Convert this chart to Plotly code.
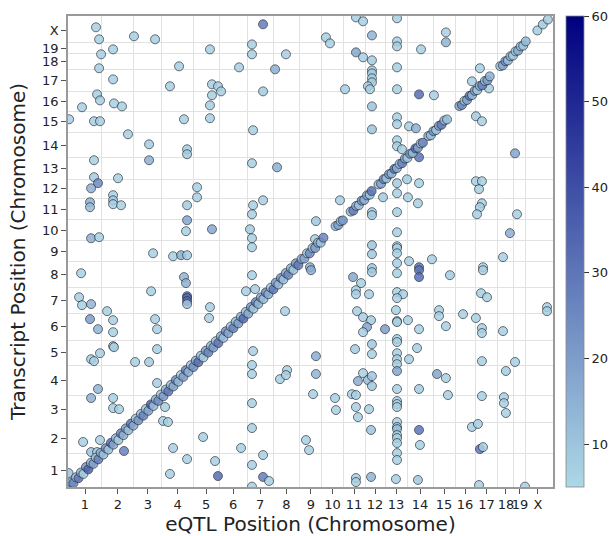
import numpy as np
import plotly.graph_objects as go

# Chromosome layout (approximate lengths, Mb, as drawn on the genome-wide axes)
chrom_labels = ["1", "2", "3", "4", "5", "6", "7", "8", "9", "10",
                "11", "12", "13", "14", "15", "16", "17", "18", "19", "X"]
chrom_lengths = [187, 176, 154, 171, 143, 154, 143, 148, 121, 116,
                 121, 110, 121, 143, 121, 110, 126, 88, 66, 132]
genome_end = 2668

# trans-eQTLs: genome-wide eQTL position, transcript position (Mb), colour value
trans_x = [154, 171, 182, 171, 248, 363, 479, 781, 1012, 1012,
           1073, 1199, 611, 941, 1139, 248, 561, 792, 825, 842,
           792, 1073, 77, 160, 176, 253, 297, 781, 6, 143,
           176, 638, 781, 330, 1018, 446, 655, 655, 446, 143,
           1012, 1150, 143, 275, 165, 127, 710, 710, 248, 248,
           248, 292, 121, 121, 655, 1073, 1018, 1012, 655, 649,
           792, 1001, 1012, 1012, 127, 171, 468, 578, 622, 655,
           1584, 1623, 1810, 1419, 1441, 1672, 1584, 1623, 1672, 1810,
           1810, 1942, 2079, 2079, 1672, 1672, 1672, 1672, 1650, 1661,
           1810, 1524, 1810, 1931, 2013, 1672, 1672, 1810, 1810, 1876,
           1914, 1810, 1810, 1837, 1931, 2266, 2222, 2316, 2244, 2277,
           2459, 1810, 1865, 1810, 1733, 1870, 1931, 1925, 1496, 1672,
           1672, 1810, 2244, 2277, 2261, 2277, 2266, 2250, 2470, 2431,
           1364, 1359, 1810, 1672, 1672, 1810, 1810, 1810, 1810, 1876,
           2002, 2393, 1931, 1331, 2283, 1672, 72, 61, 77, 127,
           121, 165, 215, 248, 248, 248, 253, 127, 143, 176,
           165, 127, 248, 248, 281, 83, 176, 127, 160, 3,
           457, 479, 490, 490, 446, 490, 369, 308, 578, 561,
           655, 743, 809, 825, 638, 649, 655, 655, 655, 655,
           781, 776, 534, 523, 550, 952, 979, 1012, 1029, 1018,
           1012, 1012, 1012, 1012, 1012, 1073, 1073, 1106, 1012, 1166,
           1205, 1199, 1194, 1337, 1568, 1612, 1672, 1810, 1931, 1931,
           2101, 2283, 1584, 1584, 1656, 1810, 1843, 1810, 2272, 2305,
           1590, 1623, 1667, 1645, 1623, 1804, 1810, 1810, 1870, 1744,
           1931, 2041, 2041, 2079, 2173, 2244, 2277, 2277, 2393, 2635,
           2635, 1579, 1672, 1672, 1810, 1810, 1810, 1810, 1810, 1810,
           1876, 1920, 2277, 2459, 1364, 1364, 2409, 1623, 1595, 1650,
           1672, 1672, 2030, 2079, 1348, 1469, 1474, 1562, 1584, 1584,
           1595, 1656, 1810, 1810, 1810, 1810, 1931, 2090, 2277, 2398,
           2398, 2409, 1810, 1810, 1810, 1810, 1810, 1810, 1810, 1810,
           1667, 1931, 1936, 2222, 2255, 2266, 2283, 1309, 1326, 1584,
           1584, 1667, 1804, 1925, 2261, 2514]
trans_y = [2604, 2536, 2451, 2372, 2479, 2553, 2536, 2479, 2507, 2451,
           2621, 2451, 2383, 2377, 2366, 2309, 2270, 2281, 2270, 2241,
           2219, 2241, 2151, 2224, 2190, 2173, 2156, 2162, 2083, 2072,
           2072, 2083, 2089, 1998, 2021, 1941, 1913, 1885, 1851, 1851,
           1834, 1811, 1755, 1749, 1721, 1692, 1698, 1641, 1653, 1624,
           1602, 1596, 1613, 1585, 1596, 1624, 1596, 1545, 1511, 1449,
           1460, 1460, 1409, 1358, 1409, 1415, 1324, 1307, 1313, 1313,
           2660, 2638, 2655, 2547, 2513, 2558, 2462, 2434, 2417, 2524,
           2496, 2479, 2575, 2519, 2360, 2343, 2315, 2292, 2270, 2253,
           2377, 2253, 2253, 2224, 2219, 2156, 2026, 2094, 2055, 2043,
           2032, 1964, 1930, 1913, 1868, 2372, 2298, 2258, 2100, 2072,
           1890, 1721, 1743, 1664, 1641, 1641, 1721, 1607, 1624, 1557,
           1540, 1557, 1732, 1732, 1687, 1607, 1585, 1545, 1545, 1438,
           1506, 1404, 1443, 1370, 1319, 1364, 1353, 1324, 1268, 1279,
           1290, 1302, 1245, 1245, 1245, 1240, 1211, 1075, 1030, 1036,
           951, 894, 996, 945, 877, 798, 792, 724, 713, 758,
           555, 504, 504, 447, 441, 255, 266, 198, 198, 79,
           1109, 951, 894, 781, 708, 589, 708, 204, 221, 74,
           158, 283, 147, 62, 1189, 1155, 1081, 1070, 1053, 1036,
           1019, 957, 453, 374, 368, 221, 1109, 1200, 1121, 770,
           691, 640, 475, 334, 125, 181, 57, 34, 2, 611,
           662, 634, 996, 1228, 1189, 1155, 1217, 1211, 1228, 1189,
           1200, 1228, 1115, 1092, 1092, 1104, 1092, 1070, 1098, 1075,
           996, 962, 945, 906, 877, 1002, 940, 934, 945, 894,
           894, 1002, 968, 911, 979, 957, 900, 872, 883, 1019,
           996, 781, 809, 753, 838, 821, 758, 724, 696, 657,
           724, 787, 713, 708, 741, 640, 657, 645, 600, 606,
           628, 572, 640, 617, 526, 504, 436, 526, 521, 453,
           396, 441, 555, 487, 470, 453, 555, 521, 515, 509,
           475, 419, 368, 340, 328, 294, 277, 249, 192, 153,
           323, 323, 238, 340, 357, 215, 226, 266, 209, 51,
           28, 57, 45, 40, 11, 2]
trans_c = [7, 7, 7, 7, 7, 7, 7, 7, 7, 7,
           28, 7, 7, 7, 15, 7, 7, 7, 7, 7,
           7, 8, 7, 7, 7, 7, 7, 7, 7, 7,
           7, 7, 7, 7, 7, 8, 8, 8, 15, 7,
           7, 15, 8, 7, 25, 15, 7, 7, 7, 9,
           7, 7, 15, 12, 8, 7, 7, 7, 18, 7,
           17, 8, 7, 7, 15, 7, 7, 7, 16, 8,
           7, 7, 7, 7, 7, 14, 18, 7, 8, 7,
           7, 7, 7, 14, 8, 8, 8, 8, 7, 7,
           7, 7, 7, 32, 7, 10, 10, 7, 7, 7,
           15, 7, 7, 7, 30, 7, 7, 7, 8, 7,
           18, 8, 8, 7, 8, 7, 7, 7, 7, 8,
           8, 7, 7, 7, 7, 7, 7, 7, 7, 16,
           9, 7, 7, 10, 9, 7, 7, 7, 7, 7,
           7, 7, 30, 16, 7, 9, 7, 7, 7, 14,
           20, 14, 7, 7, 7, 8, 7, 7, 7, 7,
           14, 15, 7, 7, 7, 7, 7, 10, 8, 10,
           7, 7, 7, 7, 8, 7, 7, 27, 7, 7,
           7, 7, 7, 32, 14, 15, 33, 33, 33, 10,
           7, 7, 7, 7, 7, 7, 7, 7, 7, 7,
           7, 7, 7, 7, 7, 7, 28, 7, 7, 7,
           7, 7, 7, 16, 17, 7, 9, 7, 30, 32,
           8, 7, 7, 7, 7, 7, 7, 7, 7, 7,
           7, 7, 8, 18, 7, 7, 7, 7, 7, 20,
           7, 7, 7, 7, 7, 7, 7, 7, 7, 7,
           7, 8, 9, 7, 7, 7, 7, 7, 7, 18,
           7, 7, 7, 7, 16, 14, 8, 7, 16, 12,
           9, 9, 18, 7, 7, 7, 7, 7, 7, 7,
           7, 7, 7, 7, 7, 7, 8, 7, 7, 7,
           7, 7, 7, 10, 12, 7, 7, 7, 7, 7,
           10, 30, 7, 7, 7, 30, 7, 7, 7, 7,
           7, 14, 7, 9, 7, 7]

# cis-eQTLs (near the diagonal)
cis_x = [5, 18, 30, 44, 58, 71, 85, 99, 112, 126,
         140, 153, 167, 180, 195, 208, 222, 236, 250, 263,
         277, 291, 305, 318, 332, 346, 360, 373, 387, 401,
         415, 428, 442, 456, 470, 483, 497, 511, 525, 538,
         552, 566, 580, 593, 607, 621, 635, 648, 662, 676,
         690, 703, 717, 731, 745, 758, 772, 786, 800, 813,
         827, 841, 855, 868, 882, 896, 910, 923, 937, 951,
         965, 978, 992, 1006, 1020, 1033, 1047, 1061, 1075, 1088,
         1102, 1116, 1130, 1143, 1157, 1171, 1185, 1198, 1212, 1226,
         1240, 1253, 1267, 1285, 1300, 1315, 1330, 1345, 1360, 1375,
         1390, 1405, 1472, 1487, 1500, 1512, 1555, 1570, 1585, 1600,
         1615, 1630, 1645, 1660, 1670, 1708, 1722, 1737, 1751, 1766,
         1780, 1795, 1809, 1824, 1838, 1853, 1867, 1882, 1896, 1911,
         1925, 1940, 1952, 1982, 1996, 2010, 2025, 2040, 2055, 2070,
         2085, 2153, 2167, 2181, 2195, 2209, 2223, 2237, 2251, 2265,
         2279, 2293, 2307, 2320, 2378, 2392, 2406, 2420, 2434, 2448,
         2462, 2476, 2490, 2504, 2518, 2582, 2612, 2640]
cis_y = [3, 26, 22, 55, 50, 82, 74, 113, 100, 137,
         131, 166, 157, 194, 184, 220, 212, 250, 240, 276,
         266, 304, 294, 332, 322, 359, 348, 387, 378, 414,
         404, 442, 432, 468, 459, 496, 488, 524, 514, 552,
         542, 578, 570, 606, 597, 634, 624, 662, 652, 690,
         680, 716, 707, 744, 734, 772, 762, 799, 790, 826,
         816, 854, 845, 882, 872, 909, 900, 937, 927, 964,
         954, 992, 982, 1019, 1010, 1047, 1037, 1074, 1065, 1102,
         1092, 1129, 1120, 1157, 1147, 1184, 1175, 1212, 1202, 1239,
         1230, 1267, 1257, 1292, 1294, 1324, 1324, 1354, 1354, 1384,
         1384, 1412, 1478, 1484, 1506, 1510, 1560, 1566, 1592, 1596,
         1622, 1626, 1652, 1656, 1676, 1714, 1718, 1744, 1748, 1772,
         1776, 1802, 1806, 1830, 1834, 1860, 1864, 1888, 1892, 1918,
         1922, 1946, 1950, 1988, 1992, 2016, 2022, 2046, 2052, 2076,
         2082, 2158, 2164, 2188, 2192, 2216, 2220, 2244, 2248, 2272,
         2276, 2300, 2304, 2326, 2384, 2388, 2412, 2416, 2440, 2444,
         2468, 2472, 2496, 2500, 2524, 2586, 2620, 2648]
cis_c = [10, 18, 25, 12, 30, 15, 8, 22, 35, 14,
         20, 9, 28, 16, 12, 24, 10, 32, 18, 14,
         8, 26, 15, 20, 11, 30, 17, 9, 22, 13,
         27, 10, 19, 35, 12, 16, 24, 9, 21, 14,
         30, 11, 18, 25, 13, 8, 20, 28, 15, 10,
         23, 17, 32, 12, 9, 19, 26, 14, 21, 10,
         30, 16, 12, 24, 18, 9, 27, 13, 20, 15,
         33, 11, 17, 22, 10, 28, 14, 19, 12, 25,
         16, 9, 30, 20, 13, 23, 11, 18, 26, 15,
         10, 21, 29, 14, 18, 9, 24, 12, 20, 16,
         11, 26, 14, 19, 9, 22, 13, 28, 17, 10,
         24, 15, 20, 9, 31, 12, 18, 25, 10, 22,
         14, 30, 16, 11, 27, 19, 9, 23, 13, 35,
         18, 10, 26, 15, 12, 22, 9, 20, 28, 14,
         11, 17, 24, 10, 19, 30, 13, 22, 9, 16,
         27, 12, 20, 15, 9, 18, 25, 11, 14, 8,
         10, 16, 12, 9, 13, 8, 9, 8]

ends = np.cumsum(chrom_lengths)
starts = ends - np.array(chrom_lengths)
mids = (starts + ends) / 2.0
bounds = ends[:-1]

FONT = "DejaVu Sans"
marker_line = dict(width=0.8, color="#242c36")

fig = go.Figure()
for xs, ys, cs in [(trans_x, trans_y, trans_c), (cis_x, cis_y, cis_c)]:
    fig.add_trace(go.Scatter(
        x=xs, y=ys, mode="markers",
        marker=dict(size=9, color=cs, coloraxis="coloraxis",
                    line=marker_line, opacity=0.85),
        hoverinfo="skip", showlegend=False))

axis_common = dict(
    range=[0, genome_end],
    tickmode="array", tickvals=mids.tolist(), ticktext=chrom_labels,
    tickangle=0,
    ticks="outside", ticklen=5, tickwidth=1, tickcolor="#555555",
    showgrid=False, zeroline=False,
    showline=True, linecolor="#9a9a9a", linewidth=1.5, mirror=True,
    tickfont=dict(family=FONT, size=13, color="#222222"),
    minor=dict(tickmode="array", tickvals=bounds.tolist(), showgrid=True,
               gridcolor="#e2e2e2", gridwidth=1, ticks=""),
)

fig.update_layout(
    width=611, height=536,
    margin=dict(l=68, r=58, t=16, b=49, autoexpand=False),
    paper_bgcolor="white", plot_bgcolor="white",
    font=dict(family=FONT, color="#222222"),
    xaxis=dict(axis_common, title=dict(text="eQTL Position (Chromosome)",
                                       font=dict(family=FONT, size=20, color="#222222"),
                                       standoff=0)),
    yaxis=dict(axis_common, title=dict(text="Transcript Position (Chromosome)",
                                       font=dict(family=FONT, size=20, color="#222222"),
                                       standoff=11)),
    coloraxis=dict(
        cmin=5, cmax=60,
        colorscale=[[0, "#add8e6"], [1, "#000080"]],
        colorbar=dict(
            x=1.027, xanchor="left", y=0.5, yanchor="middle",
            len=1, lenmode="fraction", thickness=18,
            xpad=0, ypad=0,
            tickmode="array", tickvals=[10, 20, 30, 40, 50, 60],
            ticks="outside", ticklen=5, tickcolor="#333333",
            tickfont=dict(family=FONT, size=13, color="#222222"),
            outlinewidth=0.8, outlinecolor="#888888",
        ),
    ),
)

# remove the browser's default 8px page margin so the figure fills the window exactly
fig.write_html("out.html",
               config={"displayModeBar": False},
               post_script="document.body.style.margin='0';"
                           "document.body.style.overflow='hidden';")
